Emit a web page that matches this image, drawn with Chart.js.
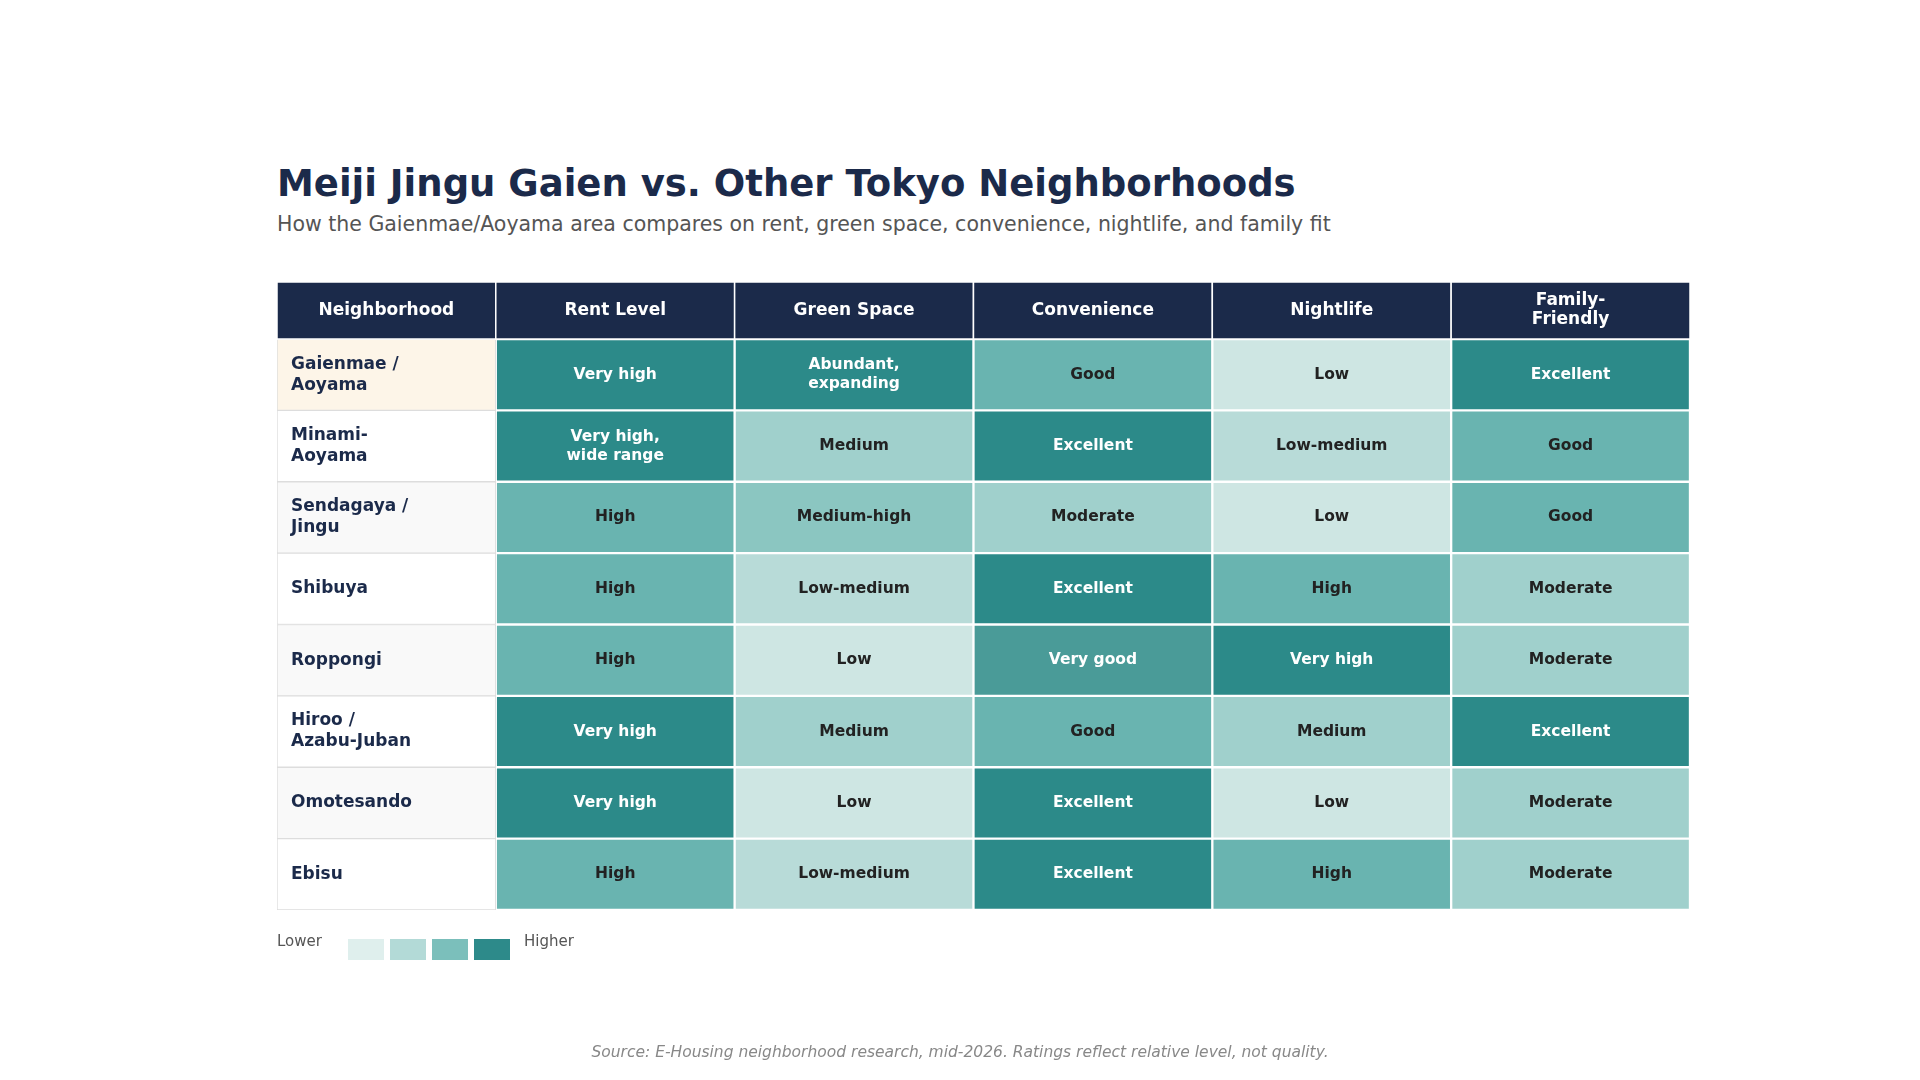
<!DOCTYPE html>
<html><head><meta charset="utf-8">
<script src="https://cdn.jsdelivr.net/npm/chart.js@4/dist/chart.umd.min.js"></script>
<style>
body{margin:0;width:1920px;height:1080px;background:#fff;font-family:"DejaVu Sans",sans-serif;position:relative;overflow:hidden}
#c{position:absolute;left:0;top:0}
.t{position:absolute;left:277px;top:162px;font-size:37px;font-weight:bold;color:#1b2a4a}
.s{position:absolute;left:277px;top:212px;font-size:20.5px;color:#555}
.lg{position:absolute;top:932px;font-size:15px;color:#555}
.sw{position:absolute;top:939px;width:36px;height:21px}
.src{position:absolute;left:0;width:1920px;text-align:center;top:1043px;font-size:15.5px;font-style:italic;color:#888}
</style></head><body>
<div class="t">Meiji Jingu Gaien vs. Other Tokyo Neighborhoods</div>
<div class="s">How the Gaienmae/Aoyama area compares on rent, green space, convenience, nightlife, and family fit</div>
<canvas id="c" width="1920" height="1080"></canvas>
<div class="lg" style="left:277px">Lower</div>
<div class="sw" style="left:348px;background:#dfefed"></div>
<div class="sw" style="left:390px;background:#b3dad7"></div>
<div class="sw" style="left:432px;background:#7bbfbb"></div>
<div class="sw" style="left:474px;background:#2d8a8a"></div>
<div class="lg" style="left:524px">Higher</div>
<div class="src">Source: E-Housing neighborhood research, mid-2026. Ratings reflect relative level, not quality.</div>
<script>
const headers=["Neighborhood","Rent Level","Green Space","Convenience","Nightlife","Family-\nFriendly"];
const neighborhoods=["Gaienmae /\nAoyama","Minami-\nAoyama","Sendagaya /\nJingu","Shibuya","Roppongi","Hiroo /\nAzabu-Juban","Omotesando","Ebisu"];
const rentLabels=["Very high","Very high,\nwide range","High","High","High","Very high","Very high","High"];
const rentLevels=[7,7,5,5,5,7,7,5];
const greenLabels=["Abundant,\nexpanding","Medium","Medium-high","Low-medium","Low","Medium","Low","Low-medium"];
const greenLevels=[7,3,4,2,1,3,1,2];
const convLabels=["Good","Excellent","Moderate","Excellent","Very good","Good","Excellent","Excellent"];
const convLevels=[5,7,3,7,6,5,7,7];
const nightLabels=["Low","Low-medium","Low","High","Very high","Medium","Low","High"];
const nightLevels=[1,2,1,5,7,3,1,5];
const familyLabels=["Excellent","Good","Good","Moderate","Moderate","Excellent","Moderate","Moderate"];
const familyLevels=[7,5,5,3,3,7,3,3];
const columnWeights=[0.916,1,1,1,1,1];

const palette={1:"#cee6e3",2:"#b8dbd8",3:"#a0d0cc",4:"#8bc6c1",5:"#69b4b0",6:"#4a9b98",7:"#2c8a89"};
const nameBg=neighborhoods.map((n,i)=>i===0?"#fdf5e8":(i%2===0?"#f9f9f9":"#ffffff"));
const cols=[[rentLabels,rentLevels],[greenLabels,greenLevels],[convLabels,convLevels],[nightLabels,nightLevels],[familyLabels,familyLevels]];
const datasets=[{data:neighborhoods.map(()=>columnWeights[0]),backgroundColor:nameBg,borderColor:"#dddddd",borderWidth:1,txt:neighborhoods,lv:neighborhoods.map(()=>0)}];
cols.forEach((c,j)=>datasets.push({data:c[1].map(()=>columnWeights[j+1]),backgroundColor:c[1].map(v=>palette[v]),borderColor:"#ffffff",borderWidth:1.5,txt:c[0],lv:c[1]}));
datasets.forEach(d=>{d.barPercentage=1;d.categoryPercentage=1;d.borderSkipped=false;});

function lines(ctx,t,x,y,lh){const ls=t.split("\n");ls.forEach((l,k)=>ctx.fillText(l,x,y+(k-(ls.length-1)/2)*lh));}
const cellText={id:"cellText",afterDatasetsDraw(ch){
  const ctx=ch.ctx;ctx.save();ctx.textBaseline="middle";
  ch.data.datasets.forEach((d,di)=>{
    const meta=ch.getDatasetMeta(di);
    meta.data.forEach((el,i)=>{
      if(di===0){ctx.font="bold 17px 'DejaVu Sans'";ctx.fillStyle="#1b2a4a";ctx.textAlign="left";lines(ctx,d.txt[i],el.base+14,el.y,21);}
      else{ctx.font="bold 15.5px 'DejaVu Sans'";ctx.fillStyle=d.lv[i]>=6?"#ffffff":"#222222";ctx.textAlign="center";lines(ctx,d.txt[i],(el.base+el.x)/2,el.y,19);}
    });
    const e0=meta.data[0];const top=ch.chartArea.top;const h=57;
    ctx.fillStyle="#1b2a4a";ctx.fillRect(e0.base,top-h,e0.x-e0.base,h);
    ctx.strokeStyle="#ffffff";ctx.lineWidth=1.5;ctx.strokeRect(e0.base,top-h,e0.x-e0.base,h);
    ctx.fillStyle="#ffffff";ctx.font="bold 17px 'DejaVu Sans'";ctx.textAlign="center";
    lines(ctx,headers[di],(e0.base+e0.x)/2,top-h/2,19);
  });
  ctx.restore();}};

new Chart(document.getElementById("c"),{type:"bar",
  data:{labels:neighborhoods,datasets},
  options:{indexAxis:"y",responsive:false,animation:false,
    layout:{padding:{left:277,right:230,top:339,bottom:170}},
    plugins:{legend:{display:false},tooltip:{enabled:false}},
    scales:{x:{stacked:true,display:false,min:0,max:columnWeights.reduce((a,b)=>a+b,0)},
            y:{stacked:true,display:false}}},
  plugins:[cellText]});
</script></body></html>
